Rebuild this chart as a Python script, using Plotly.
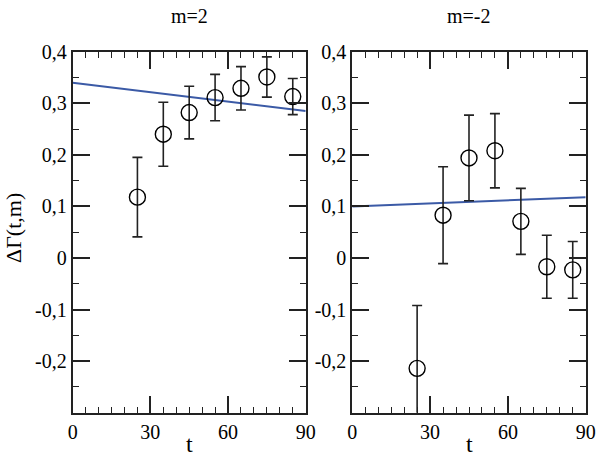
import plotly.graph_objects as go

t = [25, 35, 45, 55, 65, 75, 85]

# m = 2
m2_val = [0.118, 0.240, 0.282, 0.311, 0.329, 0.351, 0.313]
m2_err = [0.077, 0.062, 0.051, 0.045, 0.042, 0.039, 0.035]
m2_fit_t = [0, 90]
m2_fit = [0.340, 0.285]

# m = -2
mm2_val = [-0.214, 0.083, 0.194, 0.208, 0.071, -0.017, -0.023]
mm2_err = [0.122, 0.094, 0.083, 0.072, 0.064, 0.061, 0.055]
mm2_fit_t = [0, 90]
mm2_fit = [0.100, 0.118]

x_ticks = [0, 30, 60, 90]
y_ticks = [-0.2, -0.1, 0, 0.1, 0.2, 0.3, 0.4]
y_labels = ["-0,2", "-0,1", "0", "0,1", "0,2", "0,3", "0,4"]

FONT = "Liberation Serif, DejaVu Serif, Times New Roman, serif"
LINE_BLUE = "#3b5aa6"
INK = "#222222"

fig = go.Figure()

def add_panel(vals, errs, fit_t, fit, xa, ya):
    fig.add_trace(go.Scatter(
        x=fit_t, y=fit, mode="lines", xaxis=xa, yaxis=ya,
        line=dict(color=LINE_BLUE, width=2), showlegend=False, hoverinfo="skip"))
    fig.add_trace(go.Scatter(
        x=t, y=vals, mode="markers", xaxis=xa, yaxis=ya,
        marker=dict(symbol="circle-open", size=16, color="black", line=dict(width=1.4, color="black")),
        error_y=dict(type="data", array=errs, visible=True, color=INK, thickness=1.6, width=5),
        showlegend=False, cliponaxis=True))

add_panel(m2_val, m2_err, m2_fit_t, m2_fit, "x", "y")
add_panel(mm2_val, mm2_err, mm2_fit_t, mm2_fit, "x2", "y2")

W, H = 604, 461
xd1 = [72.7 / W, 305.7 / W]
xd2 = [352.3 / W, 585.7 / W]
yd = [1 - 412.7 / H, 1 - 51.7 / H]

axis_common = dict(
    showline=True, linecolor=INK, linewidth=2, mirror="allticks",
    ticks="inside", ticklen=17, tickwidth=1.6, tickcolor=INK,
    showgrid=False, zeroline=False, automargin=False,
    tickfont=dict(family=FONT, size=20, color="black"),
)

xaxis_cfg = dict(axis_common, range=[0, 90], tickmode="array", tickvals=x_ticks,
                 ticktext=[str(v) for v in x_ticks],
                 minor=dict(dtick=5, tick0=0, ticks="inside", ticklen=6, tickwidth=1.4, tickcolor=INK))
yaxis_cfg = dict(axis_common, range=[-0.3, 0.4], tickmode="array", tickvals=y_ticks,
                 ticktext=y_labels,
                 minor=dict(dtick=0.05, tick0=0, ticks="inside", ticklen=6, tickwidth=1.4, tickcolor=INK))

def ann(text, px, py, size, angle=0):
    return dict(text=text, x=px / W, y=1 - py / H, xref="paper", yref="paper",
                xanchor="center", yanchor="middle", showarrow=False, textangle=angle,
                font=dict(family=FONT, size=size, color="black"))

c1 = (72.7 + 305.7) / 2
c2 = (352.3 + 585.7) / 2

fig.update_layout(
    width=W, height=H,
    margin=dict(l=0, r=0, t=0, b=0, autoexpand=False),
    paper_bgcolor="white", plot_bgcolor="white",
    xaxis=dict(xaxis_cfg, domain=xd1, anchor="y"),
    yaxis=dict(yaxis_cfg, domain=yd, anchor="x"),
    xaxis2=dict(xaxis_cfg, domain=xd2, anchor="y2"),
    yaxis2=dict(yaxis_cfg, domain=yd, anchor="x2"),
    font=dict(family=FONT, color="black"),
    annotations=[
        ann("m=2", c1, 16, 20),
        ann("m=-2", c2, 16, 20),
        ann("t", c1, 444, 24),
        ann("t", c2, 444, 24),
        ann("ΔΓ(t,m)", 13, 228, 22, -90),
    ],
)

fig.write_html("out.html", config={"displayModeBar": False},
               post_script="document.body.style.margin='0';")
